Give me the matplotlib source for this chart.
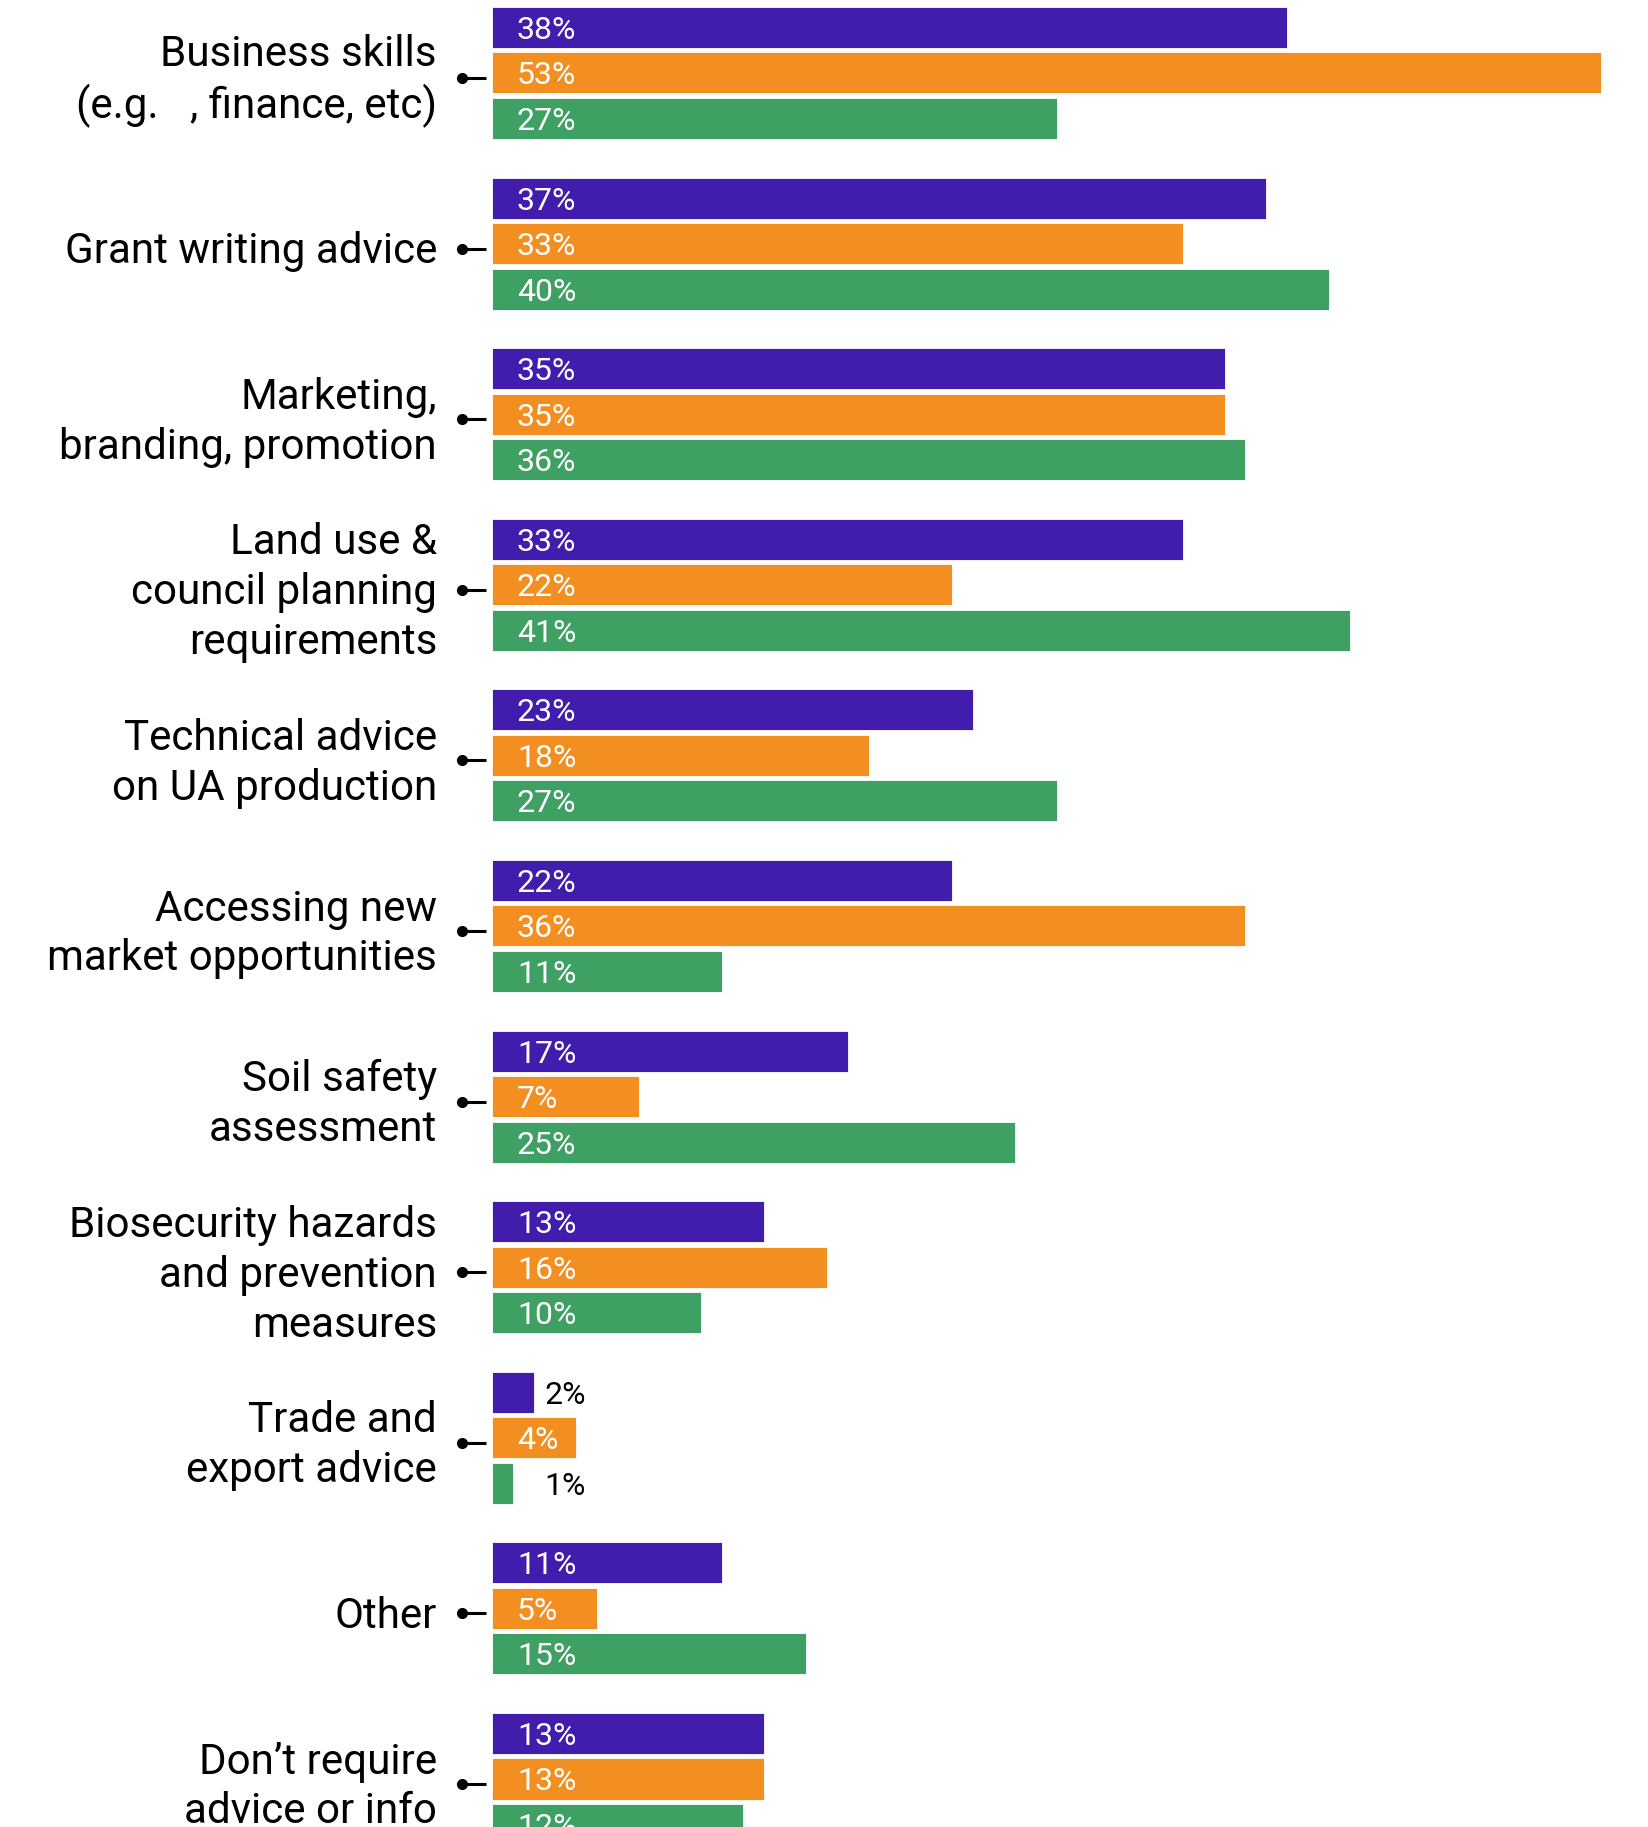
import matplotlib
matplotlib.use("Agg")
import matplotlib.pyplot as plt

plt.rcParams['font.family'] = ['Roboto', 'DejaVu Sans']

categories = [
    "Business skills\n(e.g.   , \ufb01nance, etc)",
    "Grant writing advice",
    "Marketing,\nbranding, promotion",
    "Land use &\ncouncil planning\nrequirements",
    "Technical advice\non UA production",
    "Accessing new\nmarket opportunities",
    "Soil safety\nassessment",
    "Biosecurity hazards\nand prevention\nmeasures",
    "Trade and\nexport advice",
    "Other",
    "Don\u2019t require\nadvice or info",
]
series_purple = [38, 37, 35, 33, 23, 22, 17, 13, 2, 11, 13]
series_orange = [53, 33, 35, 22, 18, 36, 7, 16, 4, 5, 13]
series_green = [27, 40, 36, 41, 27, 11, 25, 10, 1, 15, 12]

colors = ["#421CAD", "#F28F20", "#3EA062"]

W, H = 1649, 1827
fig = plt.figure(figsize=(W / 100, H / 100), dpi=100)
ax = fig.add_axes([0, 0, 1, 1])

px_per_pct = 20.93          # horizontal scale
x0_px = 492                 # bar baseline in pixels
group_px = 170.6            # vertical distance between groups
first_px = 73               # first group centre

ax.set_xlim(-x0_px / px_per_pct, (W - x0_px) / px_per_pct)
ax.set_ylim((H - first_px) / group_px, -first_px / group_px)
ax.axis('off')

offset = 45.5 / group_px
bar_h = 41 / group_px
pct_per_px = 1 / px_per_pct
label_shift = 8 / group_px   # labels sit slightly below the middle bar
pointer_shift = 5 / group_px

for i, cat in enumerate(categories):
    for j, (vals, c) in enumerate(zip([series_purple, series_orange, series_green], colors)):
        v = vals[i]
        y = i + (j - 1) * offset
        ax.barh(y, v, height=bar_h, left=0, color=c, edgecolor='white', linewidth=0.6)
        if v >= 3:
            ax.annotate(f"{v}%", (0, y), xytext=(25, 0), textcoords='offset pixels',
                        ha='left', va='center_baseline', color='white', fontsize=23)
        else:
            ax.annotate(f"{v}%", (0, y), xytext=(52, 0), textcoords='offset pixels',
                        ha='left', va='center_baseline', color='black', fontsize=23)
    # category label
    ax.annotate(cat, (0, i + label_shift), xytext=(-55, 0), textcoords='offset pixels',
                ha='right', va='center', fontsize=30.3, color='black',
                multialignment='right', linespacing=1.28)
    # pointer
    yp = i + pointer_shift
    ax.plot([-30 * pct_per_px, -6 * pct_per_px], [yp, yp], color='black', lw=2.2,
            solid_capstyle='butt')
    ax.plot([-30 * pct_per_px], [yp], 'o', color='black', markersize=7)

fig.savefig("out.png", dpi=100, facecolor='white')
